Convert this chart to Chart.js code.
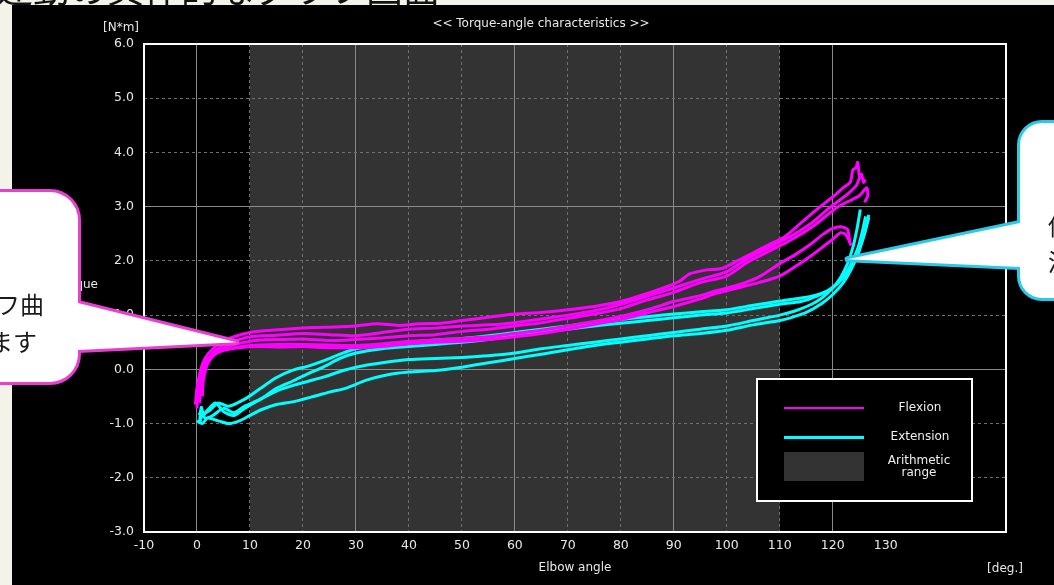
<!DOCTYPE html>
<html><head><meta charset="utf-8">
<script src="https://cdn.jsdelivr.net/npm/chart.js@4.4.1/dist/chart.umd.min.js"></script>
<style>html,body{margin:0;padding:0;background:#f3f3ea;overflow:hidden}canvas{display:block}</style>
</head><body>
<canvas id="c" width="1054" height="585"></canvas>
<script>
// ---- data ----
const xTickLabels = [-10,0,10,20,30,40,50,60,70,80,90,100,110,120,130];
const yTickLabels = [-3,-2,-1,0,1,2,3,4,5,6];
const arithmeticRange = [10,110];
const seriesNames = ['Flexion','Extension','Arithmetic range'];
const chartTitle = '<< Torque-angle characteristics >>';

const flexion1 = [[0,-0.72],[0.2,-0.4],[0.6,-0.05],[1.5,0.2],[3,0.38],[5,0.52],[7,0.6],[10,0.68],[14,0.72],[18,0.75],[22,0.77],[26,0.78],[30,0.8],[34,0.84],[38,0.81],[42,0.84],[46,0.85],[50,0.9],[55,0.96],[60,1.02],[65,1.05],[70,1.1],[75,1.16],[80,1.25],[85,1.4],[88,1.5],[91,1.62],[93,1.76],[96,1.83],[99,1.86],[102,2.0],[105,2.15],[108,2.3],[111,2.45],[114,2.7],[117,2.95],[120,3.18],[122,3.35],[123.3,3.45],[123.8,3.68],[124.4,3.72],[124.7,3.82],[125,3.55]];
const flexion2 = [[0.5,-0.62],[0.7,-0.3],[1.2,0.0],[2.5,0.25],[4.5,0.42],[7,0.52],[10,0.6],[15,0.63],[20,0.66],[25,0.64],[30,0.62],[35,0.68],[40,0.74],[45,0.76],[50,0.8],[55,0.82],[60,0.86],[65,0.93],[70,1.0],[75,1.08],[80,1.2],[85,1.35],[90,1.5],[95,1.66],[100,1.8],[104,2.05],[108,2.25],[112,2.45],[116,2.7],[119,2.95],[121,3.1],[123,3.25],[124.5,3.4],[125.4,3.6],[125.8,3.45],[126.2,3.5]];
const flexion3 = [[1,-0.5],[1.2,-0.2],[2,0.1],[3.5,0.3],[6,0.43],[9,0.5],[12,0.54],[16,0.55],[20,0.56],[25,0.53],[30,0.55],[35,0.58],[40,0.62],[45,0.64],[50,0.7],[55,0.74],[60,0.8],[65,0.86],[70,0.94],[75,1.02],[80,1.12],[85,1.28],[90,1.42],[95,1.6],[100,1.72],[104,1.98],[108,2.18],[112,2.38],[116,2.62],[119,2.85],[121,3.0],[123,3.1],[125,3.2],[126.4,3.35],[126.6,3.2],[126,3.08]];
const flexion4 = [[-0.3,-0.65],[0,-0.35],[0.8,0.0],[2,0.2],[4,0.33],[7,0.4],[10,0.44],[15,0.46],[20,0.46],[25,0.45],[30,0.44],[35,0.47],[40,0.52],[45,0.54],[50,0.57],[55,0.6],[60,0.66],[65,0.72],[70,0.8],[76,0.9],[80,0.98],[85,1.1],[90,1.25],[95,1.36],[98,1.45],[102,1.55],[106,1.7],[110,1.95],[113,2.12],[116,2.32],[118,2.48],[120,2.6],[121.5,2.63],[122.8,2.58],[123.2,2.35]];
const flexion5 = [[0.3,-0.55],[0.5,-0.25],[1.5,0.05],[3,0.25],[5,0.35],[8,0.4],[12,0.42],[16,0.41],[20,0.42],[25,0.4],[30,0.4],[35,0.42],[40,0.47],[45,0.5],[50,0.52],[55,0.55],[60,0.6],[65,0.66],[70,0.74],[76,0.85],[80,0.92],[85,1.04],[90,1.16],[95,1.3],[98,1.4],[102,1.5],[106,1.6],[110,1.72],[113,1.9],[116,2.1],[118,2.25],[120,2.4],[121.5,2.52],[122.5,2.48],[123.5,2.28]];

const extension1 = [[126.8,2.85],[126.2,2.6],[125.5,2.35],[124.5,2.05],[123,1.8],[121,1.6],[119,1.45],[116,1.35],[113,1.3],[110,1.26],[105,1.18],[100,1.1],[95,1.06],[90,1.02],[85,0.97],[80,0.92],[75,0.86],[70,0.8],[65,0.74],[60,0.68],[55,0.62],[50,0.57],[45,0.54],[40,0.5],[35,0.45],[30,0.38],[27,0.28],[24,0.16],[21,0.06],[18,-0.02],[15,-0.15],[12,-0.35],[9,-0.55],[6,-0.68],[4,-0.62],[2.5,-0.75],[1,-0.85],[0.5,-0.98]];
const extension2 = [[126.2,2.82],[125.6,2.55],[124.8,2.25],[123.5,1.95],[122,1.7],[120,1.5],[117,1.35],[114,1.25],[110,1.2],[105,1.12],[100,1.04],[95,1.0],[90,0.95],[85,0.9],[80,0.85],[75,0.8],[70,0.74],[65,0.68],[60,0.62],[55,0.55],[50,0.5],[45,0.46],[40,0.42],[35,0.38],[30,0.3],[27,0.2],[24,0.05],[21,-0.08],[18,-0.22],[15,-0.35],[12,-0.55],[9,-0.68],[7,-0.8],[5,-0.72],[3,-0.85],[1.5,-0.9],[0.8,-0.7],[0.5,-1.0]];
const extension3 = [[125.2,2.95],[124.6,2.6],[123.8,2.25],[122.8,1.95],[121.5,1.7],[120,1.5],[118,1.32],[116,1.2],[113,1.08],[110,1.0],[105,0.9],[100,0.8],[95,0.74],[90,0.68],[85,0.62],[80,0.56],[75,0.5],[70,0.44],[65,0.38],[60,0.3],[55,0.25],[50,0.22],[45,0.2],[40,0.18],[35,0.12],[30,0.04],[27,-0.04],[24,-0.14],[21,-0.22],[18,-0.3],[15,-0.4],[12,-0.55],[9,-0.72],[7,-0.85],[5,-0.78],[3.5,-0.62],[2,-0.75],[1,-0.85],[0.3,-0.8]];
const extension4 = [[126.8,2.8],[126,2.5],[125,2.2],[123.5,1.85],[122,1.6],[120,1.38],[118,1.22],[115,1.05],[112,0.95],[110,0.9],[105,0.82],[100,0.72],[95,0.66],[90,0.62],[85,0.56],[80,0.5],[75,0.44],[70,0.36],[65,0.28],[60,0.2],[55,0.12],[50,0.04],[45,-0.02],[40,-0.05],[36,-0.1],[32,-0.2],[28,-0.35],[25,-0.42],[22,-0.5],[18,-0.6],[15,-0.65],[12,-0.75],[10,-0.85],[8,-0.95],[6,-1.0],[4,-0.95],[2,-0.9],[1,-1.0],[0,-0.95]];

const flexionCurves = [flexion1, flexion2, flexion3, flexion4, flexion5];
const extensionCurves = [extension1, extension2, extension3, extension4];
const flexionColor = '#ff00ff';
const extensionColor = '#00ffff';
const rangeColor = '#333333';

// ---- chart ----
const FONT = '"DejaVu Sans", "Liberation Sans", sans-serif';
const FSIZE = 12.5;
const toPts = a => a.map(p => ({x: p[0], y: p[1]}));
const datasets = [];
flexionCurves.forEach(c => datasets.push({label: seriesNames[0], data: toPts(c), borderColor: flexionColor, borderWidth: 3, showLine: true, pointRadius: 0, tension: 0.25, fill: false}));
extensionCurves.forEach(c => datasets.push({label: seriesNames[1], data: toPts(c), borderColor: extensionColor, borderWidth: 3, showLine: true, pointRadius: 0, tension: 0.25, fill: false}));

const xMin = xTickLabels[0], xMax = 152.7;
const yMin = yTickLabels[0], yMax = yTickLabels[yTickLabels.length - 1];
const maxXGrid = 120;

function roundRect(ctx, x, y, w, h, r) {
  ctx.beginPath();
  ctx.moveTo(x + r, y);
  ctx.lineTo(x + w - r, y); ctx.arcTo(x + w, y, x + w, y + r, r);
  ctx.lineTo(x + w, y + h - r); ctx.arcTo(x + w, y + h, x + w - r, y + h, r);
  ctx.lineTo(x + r, y + h); ctx.arcTo(x, y + h, x, y + h - r, r);
  ctx.lineTo(x, y + r); ctx.arcTo(x, y, x + r, y, r);
  ctx.closePath();
}
function callout(ctx, box, base1, base2, tip, color) {
  const tri = () => { ctx.beginPath(); ctx.moveTo(base1[0], base1[1]); ctx.lineTo(tip[0], tip[1]); ctx.lineTo(base2[0], base2[1]); ctx.closePath(); };
  ctx.save();
  ctx.strokeStyle = color; ctx.lineWidth = 6; ctx.lineJoin = 'round';
  roundRect(ctx, box[0], box[1], box[2], box[3], box[4]); ctx.stroke();
  tri(); ctx.stroke();
  ctx.fillStyle = '#ffffff';
  roundRect(ctx, box[0], box[1], box[2], box[3], box[4]); ctx.fill();
  tri(); ctx.fill();
  ctx.restore();
}

const deco = {
  id: 'deco',
  beforeDraw(chart) {
    const {ctx, chartArea: a, scales: {x}} = chart;
    ctx.save();
    ctx.fillStyle = '#f3f3ea'; ctx.fillRect(0, 0, chart.width, chart.height);
    ctx.fillStyle = '#111';
    ctx.font = '37px "Noto Sans CJK JP"';
    ctx.textBaseline = 'ideographic';
    ctx.fillText('運動の具体的なグラフ画面', -4, 7);
    ctx.fillStyle = '#000'; ctx.fillRect(12, 5, chart.width - 12, chart.height - 5);
    const x0 = x.getPixelForValue(arithmeticRange[0]), x1 = x.getPixelForValue(arithmeticRange[1]);
    ctx.fillStyle = rangeColor; ctx.fillRect(x0, a.top, x1 - x0, a.bottom - a.top);
    ctx.restore();
  },
  afterDraw(chart) {
    const {ctx, chartArea: a, scales: {x, y}} = chart;
    ctx.save();
    // frame
    ctx.strokeStyle = '#ffffff'; ctx.lineWidth = 2;
    ctx.strokeRect(a.left, a.top, a.right - a.left, a.bottom - a.top);
    // texts
    ctx.fillStyle = '#e8e8e8';
    ctx.font = '12px ' + FONT;
    ctx.textBaseline = 'middle';
    ctx.textAlign = 'center';
    ctx.fillText(chartTitle, (a.left + a.right) / 2 - 34, 24);
    ctx.fillText('[N*m]', 121, 28);
    ctx.fillText('Elbow angle', (a.left + a.right) / 2, 568);
    ctx.fillText('[deg.]', 1005, 569);
    ctx.textAlign = 'right';
    ctx.fillText('Torque', 98, 285);
    // legend
    ctx.fillStyle = '#000'; ctx.fillRect(757, 379, 215, 122);
    ctx.strokeStyle = '#ffffff'; ctx.lineWidth = 2; ctx.strokeRect(757, 379, 215, 122);
    ctx.strokeStyle = flexionColor; ctx.lineWidth = 2;
    ctx.beginPath(); ctx.moveTo(784, 408); ctx.lineTo(864, 408); ctx.stroke();
    ctx.strokeStyle = extensionColor; ctx.lineWidth = 3;
    ctx.beginPath(); ctx.moveTo(784, 437.5); ctx.lineTo(864, 437.5); ctx.stroke();
    ctx.fillStyle = rangeColor; ctx.fillRect(784, 452, 80, 29);
    ctx.fillStyle = '#eeeeee'; ctx.textAlign = 'center';
    ctx.fillText(seriesNames[0], 920, 408);
    ctx.fillText(seriesNames[1], 920, 437);
    ctx.fillText('Arithmetic', 919, 461);
    ctx.fillText('range', 919, 473);
    // callouts
    const tipL = [x.getPixelForValue(7.4), y.getPixelForValue(0.5)];
    callout(ctx, [-30, 192, 108, 190, 28], [78, 303], [78, 350], tipL, '#e83fd1');
    const tipR = [x.getPixelForValue(122.8), y.getPixelForValue(2.03)];
    callout(ctx, [1020, 123, 80, 175, 22], [1020, 223], [1020, 267], tipR, '#2bc9e8');
    ctx.fillStyle = '#1a1a1a';
    ctx.font = '24px "Noto Sans CJK JP"';
    ctx.textBaseline = 'middle';
    ctx.textAlign = 'right';
    ctx.fillText('屈曲のグラフ曲', 44, 305);
    ctx.fillText('線を表します', 37, 342);
    ctx.textAlign = 'left';
    ctx.fillText('伸展のグラフ曲', 1048, 226);
    ctx.fillText('波形を表します', 1048, 262);
    ctx.restore();
  }
};

new Chart(document.getElementById('c'), {
  type: 'scatter',
  data: {datasets},
  plugins: [deco],
  options: {
    responsive: false,
    devicePixelRatio: 1,
    animation: false,
    layout: {padding: {left: 84, top: 44, right: 48, bottom: 0}},
    plugins: {legend: {display: false}, tooltip: {enabled: false}, title: {display: false}},
    scales: {
      x: {
        type: 'linear', min: xMin, max: xMax,
        afterFit: s => { s.height = 53; },
        ticks: {
          stepSize: 10, includeBounds: false, autoSkip: false, maxRotation: 0, padding: 6,
          color: '#e8e8e8', font: {family: FONT, size: FSIZE},
          callback: v => (xTickLabels.includes(v) ? String(v) : '')
        },
        grid: {
          drawTicks: false, lineWidth: 1,
          color: c => { const v = c.tick ? c.tick.value : null; if (v === null || v <= xMin || v > maxXGrid) return 'rgba(0,0,0,0)'; return v % 30 === 0 ? '#8a8a8a' : '#707070'; }
        },
        border: {display: false, dash: c => (c.tick && c.tick.value % 30 === 0) ? [] : [3, 3]}
      },
      y: {
        type: 'linear', min: yMin, max: yMax,
        afterFit: s => { s.width = 60; },
        ticks: {
          stepSize: 1, padding: 10, color: '#e8e8e8', font: {family: FONT, size: FSIZE},
          callback: v => (yTickLabels.includes(v) ? v.toFixed(1) : '')
        },
        grid: {
          drawTicks: false, lineWidth: 1,
          color: c => { const v = c.tick ? c.tick.value : null; if (v === null || v <= yMin || v >= yMax) return 'rgba(0,0,0,0)'; return v % 3 === 0 ? '#8a8a8a' : '#707070'; }
        },
        border: {display: false, dash: c => (c.tick && c.tick.value % 3 === 0) ? [] : [3, 3]}
      }
    }
  }
});
</script>
</body></html>
